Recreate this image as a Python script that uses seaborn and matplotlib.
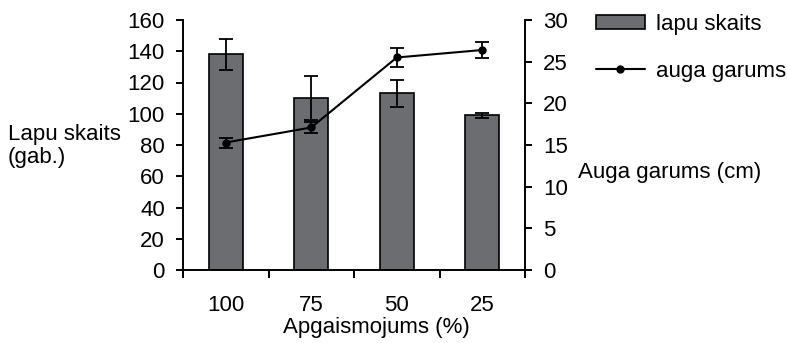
import numpy as np
import matplotlib
matplotlib.use("Agg")
import matplotlib.pyplot as plt
import seaborn as sns
from matplotlib.patches import Patch
from matplotlib.lines import Line2D
from matplotlib.ticker import FixedLocator

sns.set_style("ticks")
plt.rcParams['font.family'] = ['Liberation Sans', 'DejaVu Sans']
plt.rcParams['text.color'] = 'black'
plt.rcParams['xtick.color'] = 'black'
plt.rcParams['ytick.color'] = 'black'

# data
light = ["100", "75", "50", "25"]
leaves = [138, 110, 113, 99]
leaves_err = [10, 14, 8.5, 1.5]
height = [15.3, 17.1, 25.5, 26.4]
height_err = [0.6, 0.7, 1.1, 1.0]

bar_color = "#6c6d71"
fs = 16

fig = plt.figure(figsize=(7.87, 3.43), dpi=100)
ax = fig.add_axes([183/787, 1 - 270/343, 342/787, 250/343])

sns.barplot(x=light, y=leaves, order=light, color=bar_color, edgecolor="black",
            linewidth=1.2, width=0.4, saturation=1, ax=ax)
pos = np.arange(len(light))
ax.errorbar(pos, leaves, yerr=leaves_err, fmt="none", ecolor="black",
            elinewidth=1.3, capsize=5, capthick=1.3, zorder=5)

ax.set_xlim(-0.5, 3.5)
ax.set_ylim(0, 160)
ax.set_yticks(range(0, 161, 20))
ax.set_xlabel("")
ax.set_ylabel("")
ax.xaxis.set_minor_locator(FixedLocator(np.arange(-0.5, 4, 1)))
ax.tick_params(axis="x", which="major", length=0, pad=18, labelsize=fs)
ax.tick_params(axis="x", which="minor", length=6, width=1.4, direction="out")
ax.tick_params(axis="y", length=5, width=1.4, pad=8, labelsize=fs)

ax2 = ax.twinx()
ax2.errorbar(pos, height, yerr=height_err, fmt="-o", color="black", lw=1.5,
             ms=5, elinewidth=1.3, capsize=5, capthick=1.3, zorder=6)
ax2.set_ylim(0, 30)
ax2.set_yticks(range(0, 31, 5))
ax2.tick_params(axis="y", length=5, width=1.4, pad=8, labelsize=fs)

for a in (ax, ax2):
    a.spines["top"].set_visible(False)
    for s in ("left", "right", "bottom"):
        a.spines[s].set_linewidth(1.4)
        a.spines[s].set_color("black")
ax.spines["right"].set_visible(False)
ax2.spines["left"].set_visible(False)
ax2.spines["bottom"].set_visible(False)

fig.text(8/787, 1 - 146/343, "Lapu skaits\n(gab.)", fontsize=fs, ha="left",
         va="center", linespacing=1.1)
fig.text(578/787, 1 - 172/343, "Auga garums (cm)", fontsize=fs, ha="left", va="center")
fig.text(376/787, 1 - 327/343, "Apgaismojums (%)", fontsize=fs, ha="center", va="center")

handles = [Patch(facecolor=bar_color, edgecolor="black", linewidth=1.2),
           Line2D([0], [0], color="black", lw=1.5, marker="o", ms=5)]
fig.legend(handles, ["lapu skaits", "auga garums"], loc="upper left",
           bbox_to_anchor=(596/787, 1 - 14/343), frameon=False, fontsize=fs,
           handlelength=2.2, handleheight=0.6, handletextpad=0.5,
           labelspacing=1.15, borderpad=0, borderaxespad=0)

fig.savefig("out.png", dpi=100)
